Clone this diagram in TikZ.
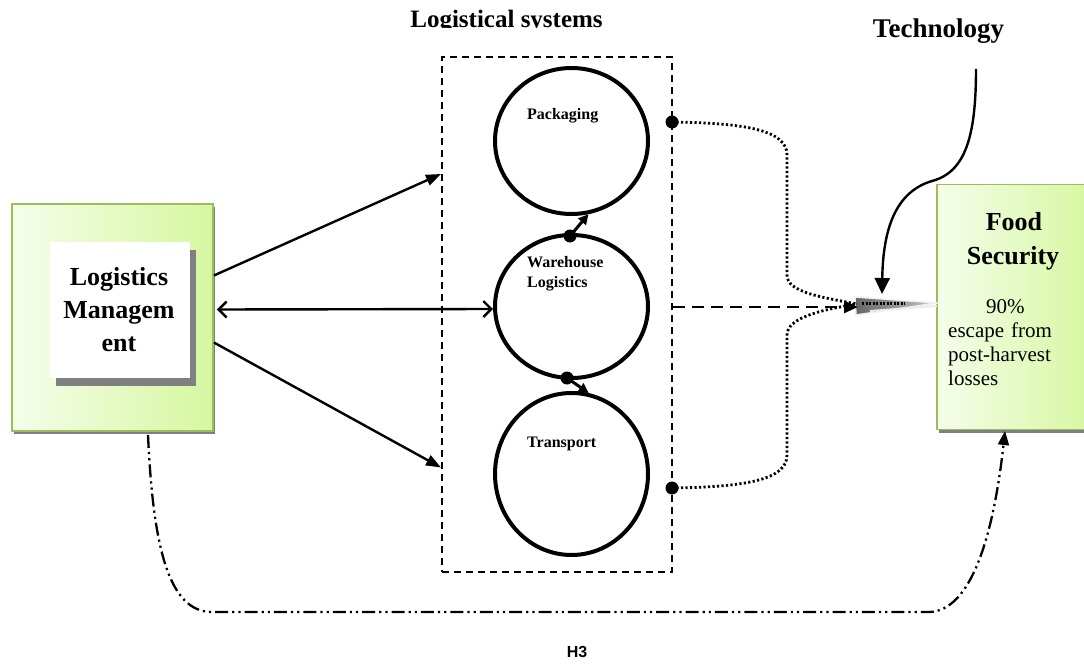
\documentclass[tikz,border=0pt]{standalone}
\usepackage{fontspec}
\setmainfont{Liberation Serif}
\newfontfamily\hfont{Liberation Sans}
\usetikzlibrary{arrows.meta,shapes.geometric,shadows}
\definecolor{gleft}{RGB}{245,253,234}
\definecolor{gright}{RGB}{214,247,160}
\definecolor{gborder}{RGB}{155,190,90}
\definecolor{shgray}{RGB}{128,128,128}
\begin{document}
\begin{tikzpicture}[x=1pt,y=-1pt,
  greenbox/.style={draw=gborder, line width=1.8pt, left color=gleft, right color=gright, inner sep=0,
    drop shadow={shadow xshift=2pt, shadow yshift=-3pt, fill=shgray, opacity=1}},
  whitebox/.style={fill=white, inner sep=0,
    drop shadow={shadow xshift=6pt, shadow yshift=-8pt, fill=shgray, opacity=1}},
  sysbox/.style={draw, line width=2pt, dash pattern=on 7pt off 5pt, inner sep=0},
  circ/.style={draw, ellipse, line width=4pt, inner sep=0},
  ctext/.style={font=\fontsize{16}{20}\selectfont\bfseries, anchor=base west, inner sep=0, align=left},
  bigtext/.style={font=\fontsize{26}{33}\selectfont\bfseries, inner sep=0, align=center},
  mainarrow/.style={line width=2.4pt, -{Triangle[length=15pt,width=11pt]}},
  smallarrow/.style={line width=3pt, -{Triangle[length=10pt,width=10pt]}},
  dotc/.style={circle, fill=black, inner sep=0, minimum size=13pt},
  dotline/.style={line width=2.8pt, dash pattern=on 2.2pt off 2.3pt},
  dashline/.style={line width=2.8pt, dash pattern=on 12pt off 7pt},
  dashdot/.style={line width=2.3pt, dash pattern=on 13pt off 4pt on 2.2pt off 4pt on 2.2pt off 4pt},
]
\useasboundingbox (0,0) rectangle (1084,671);

% left box
\node[greenbox, minimum width=201pt, minimum height=227pt] (lm) at (112.5,317.5) {};
\node[whitebox, minimum width=140pt, minimum height=136pt] (lmin) at (119.5,310) {};
\node[bigtext] (lmt) at (119,310) {Logistics\\Managem\\ent};

% right box
\node[greenbox, minimum width=157pt, minimum height=245pt] (fs) at (1015.5,307) {};
\node[font=\fontsize{26}{34}\selectfont\bfseries, anchor=base, inner sep=0] (fst) at (1014,230) {Food};
\node[font=\fontsize{26}{34}\selectfont\bfseries, anchor=base, inner sep=0] (fst2) at (1013,264) {Security};
\node[font=\fontsize{21}{24}\selectfont, anchor=base west, inner sep=0, text width=120pt, align=left] (fsd) at (948,313)
  {\hspace*{38pt}90\%\\escape from\\post-harvest\\losses};

% logistical systems
\begin{scope}
\clip (380,0) rectangle (720,27.5);
\node[font=\fontsize{25}{30}\selectfont\bfseries, anchor=base, inner sep=0] (lst) at (506.5,27.5) {Logistical systems};
\end{scope}
\node[sysbox, minimum width=230pt, minimum height=515pt] (sys) at (557,314.5) {};

% circles
\node[circ, minimum width=153pt, minimum height=146pt] (pk) at (571.5,141) {};
\node[circ, minimum width=153pt, minimum height=143pt] (wh) at (571.5,306.5) {};
\node[circ, minimum width=153pt, minimum height=162pt] (tr) at (571.5,474) {};
\node[ctext] (pkt) at (527,120) {Packaging};
\node[ctext] (wht) at (527,287) {Warehouse\\Logistics};
\node[ctext] (trt) at (527,447) {Transport};

% small connectors between circles
\node[dotc] (wd1) at (570,236) {};
\node[dotc] (wd2) at (567,378) {};
\draw[smallarrow] (wd1.center) -- (pk.-77);
\draw[smallarrow] (wd2.center) -- (tr.78);

% arrows from logistics management
\draw[mainarrow] ([yshift=42pt]lm.east) -- ([yshift=140.5pt]sys.west);
\draw[mainarrow] ([yshift=-25pt]lm.east) -- ([yshift=-153pt]sys.west);
\draw[line width=2.4pt, {Straight Barb[length=8pt,width=16pt]}-{Straight Barb[length=8pt,width=16pt]}]
  ([xshift=3pt,yshift=8pt]lm.east) -- (wh.west |- 0,309);

% wedge
\coordinate (w) at (857,304);
\path[left color=gray!80!black, right color=gray!45, draw=gray!12, line width=1.5pt]
  (855,297) -- (937,303) -- (856,315) -- cycle;
\draw[gray!15, line width=2pt] (870,311) -- (937,306);
\draw[line width=2.8pt, dash pattern=on 2pt off 1.5pt] (862,303.5) -- (905,303.5);

% dots on the right of the system box
\node[dotc] (rd1) at (672,122) {};
\node[dotc] (rd2) at (672,488) {};
\draw[dotline] (rd1.center) .. controls (745,123) and (787,130) .. (787,155) -- (787,275)
  .. controls (787,292) and (820,297) .. (w);
\draw[dotline] (rd2.center) .. controls (745,487) and (787,480) .. (787,455) -- (787,335)
  .. controls (787,318) and (820,310) .. (w);
\draw[dashline, -{Triangle[length=14pt,width=12pt]}] (sys.east |- 0,307) -- (858,307);

% technology
\node[font=\fontsize{27}{32}\selectfont\bfseries, anchor=base, inner sep=0] (tech) at (938.5,38) {Technology};
\coordinate (t0) at (976,69);
\draw[line width=2.4pt, -{Triangle[length=16pt,width=15pt]}] (t0) .. controls (976,135) and (966,172) .. (932,181)
  .. controls (895,192) and (883,230) .. (882,294);

% H3 dash-dot loop
\coordinate (dd0) at (148,435);
\coordinate (dd1) at (1005,431);
\draw[dashdot, -{Triangle[length=14pt,width=11pt]}] (dd0) .. controls (153,545) and (168,612) .. (212,612)
  -- (930,612) .. controls (970,610) and (993,540) .. (dd1);
\node[font=\hfont\fontsize{16}{19}\selectfont\bfseries, inner sep=0] (h3) at (577,652) {H3};
\end{tikzpicture}
\end{document}
